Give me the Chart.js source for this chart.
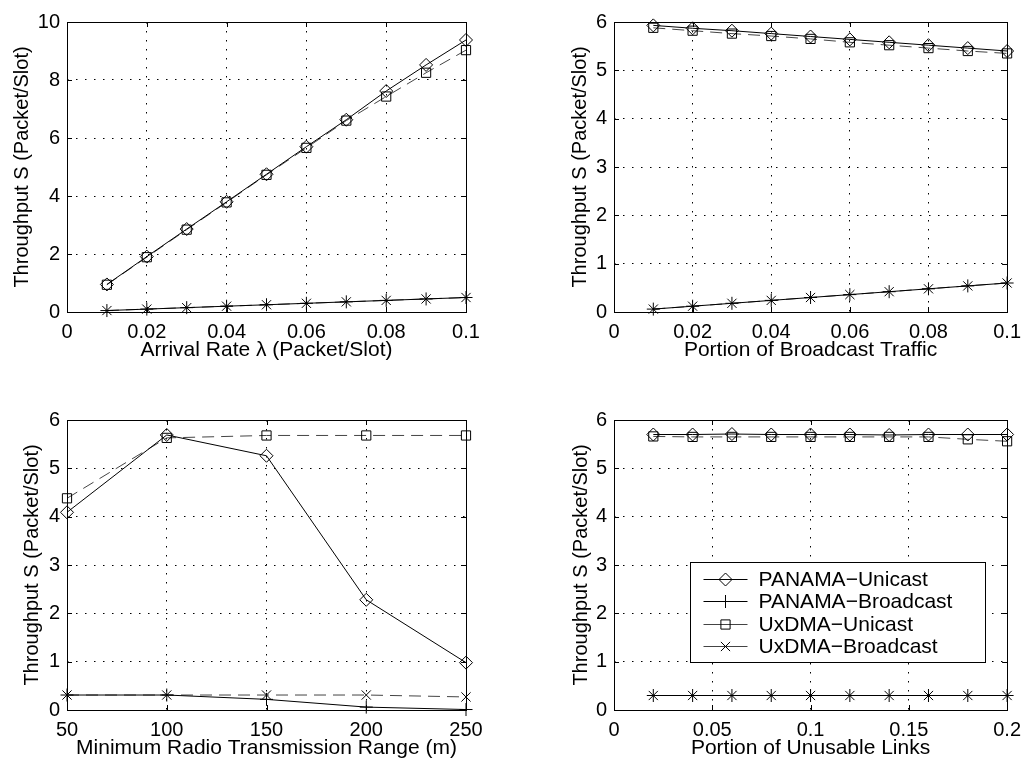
<!DOCTYPE html>
<html lang="en">
<head>
<meta charset="UTF-8">
<title>Throughput S</title>
<script src="https://cdn.jsdelivr.net/npm/chart.js"></script>
<style>
  html, body { margin: 0; padding: 0; background: #fff; }
  body { width: 1029px; height: 761px; position: relative; overflow: hidden; }
  canvas { position: absolute; }
</style>
</head>
<body>
<canvas id="c1" style="left:0;top:0" width="514" height="380"></canvas>
<canvas id="c2" style="left:514px;top:0" width="515" height="380"></canvas>
<canvas id="c3" style="left:0;top:380px" width="514" height="381"></canvas>
<canvas id="c4" style="left:514px;top:380px" width="515" height="381"></canvas>

<script>
const seriesNames = ['PANAMA\u2212Unicast', 'PANAMA\u2212Broadcast', 'UxDMA\u2212Unicast', 'UxDMA\u2212Broadcast'];
const yTitle = 'Throughput S (Packet/Slot)';

// arrival rate
const rateX = [0.01, 0.02, 0.03, 0.04, 0.05, 0.06, 0.07, 0.08, 0.09, 0.1];
const rateUniP = [0.95, 1.91, 2.86, 3.8, 4.75, 5.7, 6.63, 7.62, 8.52, 9.38];
const rateBcP = [0.05, 0.1, 0.15, 0.2, 0.25, 0.3, 0.35, 0.4, 0.45, 0.5];
const rateUniU = [0.94, 1.89, 2.84, 3.78, 4.73, 5.66, 6.6, 7.43, 8.25, 9.03];
const rateBcU = [0.05, 0.1, 0.15, 0.2, 0.25, 0.3, 0.35, 0.4, 0.45, 0.5];
const rateXTicks = [0, 0.02, 0.04, 0.06, 0.08, 0.1];
const rateXLabels = ['0', '0.02', '0.04', '0.06', '0.08', '0.1'];
const rateYTicks = [0, 2, 4, 6, 8, 10];
const rateYLabels = ['0', '2', '4', '6', '8', '10'];

// broadcast portion
const bcX = [0.01, 0.02, 0.03, 0.04, 0.05, 0.06, 0.07, 0.08, 0.09, 0.1];
const bcUniP = [5.93, 5.87, 5.82, 5.76, 5.7, 5.64, 5.58, 5.52, 5.46, 5.4];
const bcBcP = [0.06, 0.12, 0.18, 0.24, 0.3, 0.36, 0.42, 0.48, 0.54, 0.6];
const bcUniU = [5.88, 5.82, 5.76, 5.71, 5.65, 5.58, 5.52, 5.46, 5.4, 5.35];
const bcBcU = [0.06, 0.12, 0.18, 0.24, 0.3, 0.36, 0.42, 0.48, 0.54, 0.6];
const bcXTicks = [0, 0.02, 0.04, 0.06, 0.08, 0.1];
const bcXLabels = ['0', '0.02', '0.04', '0.06', '0.08', '0.1'];

// radio range
const rangeX = [50, 100, 150, 200, 250];
const rangeUniP = [4.09, 5.69, 5.26, 2.28, 0.98];
const rangeBcP = [0.31, 0.31, 0.22, 0.06, 0.01];
const rangeUniU = [4.38, 5.63, 5.68, 5.68, 5.68];
const rangeBcU = [0.31, 0.31, 0.31, 0.31, 0.27];
const rangeXTicks = [50, 100, 150, 200, 250];
const rangeXLabels = ['50', '100', '150', '200', '250'];

// unusable links
const linkX = [0.02, 0.04, 0.06, 0.08, 0.1, 0.12, 0.14, 0.16, 0.18, 0.2];
const linkUniP = [5.7, 5.7, 5.71, 5.7, 5.7, 5.7, 5.69, 5.7, 5.7, 5.7];
const linkBcP = [0.3, 0.3, 0.3, 0.3, 0.3, 0.3, 0.3, 0.3, 0.3, 0.3];
const linkUniU = [5.66, 5.65, 5.65, 5.65, 5.65, 5.65, 5.65, 5.65, 5.6, 5.56];
const linkBcU = [0.3, 0.3, 0.3, 0.3, 0.3, 0.3, 0.3, 0.3, 0.3, 0.3];
const linkXTicks = [0, 0.05, 0.1, 0.15, 0.2];
const linkXLabels = ['0', '0.05', '0.1', '0.15', '0.2'];

const sixYTicks = [0, 1, 2, 3, 4, 5, 6];
const sixYLabels = ['0', '1', '2', '3', '4', '5', '6'];

const FONT = 'Liberation Sans, Arial, Helvetica, sans-serif';
const styles = [
  { pointStyle: 'rectRot', dash: [], color: '#000' },
  { pointStyle: 'cross', dash: [], color: '#000' },
  { pointStyle: 'rect', dash: [12, 7], color: '#444' },
  { pointStyle: 'crossRot', dash: [12, 7], color: '#444' }
];

// box round the plot, with inward tick marks like matlab
const framePlugin = {
  id: 'frame',
  afterDraw(chart) {
    const { ctx, chartArea: a, scales } = chart;
    ctx.save();
    ctx.strokeStyle = '#000';
    ctx.lineWidth = 1;
    ctx.strokeRect(Math.round(a.left) + 0.5, Math.round(a.top) + 0.5, Math.round(a.right - a.left), Math.round(a.bottom - a.top));
    ctx.beginPath();
    scales.x.ticks.forEach(t => {
      const x = Math.round(scales.x.getPixelForValue(t.value)) + 0.5;
      ctx.moveTo(x, a.bottom); ctx.lineTo(x, a.bottom - 5);
      ctx.moveTo(x, a.top); ctx.lineTo(x, a.top + 5);
    });
    scales.y.ticks.forEach(t => {
      const y = Math.round(scales.y.getPixelForValue(t.value)) + 0.5;
      ctx.moveTo(a.left, y); ctx.lineTo(a.left + 5, y);
      ctx.moveTo(a.right, y); ctx.lineTo(a.right - 5, y);
    });
    ctx.stroke();
    ctx.restore();
  }
};

function marker(ctx, style, x, y, r) {
  ctx.beginPath();
  if (style === 'rectRot') {
    ctx.moveTo(x - r, y); ctx.lineTo(x, y - r); ctx.lineTo(x + r, y); ctx.lineTo(x, y + r); ctx.closePath();
  } else if (style === 'rect') {
    const s = r * Math.SQRT1_2;
    ctx.rect(x - s, y - s, 2 * s, 2 * s);
  } else if (style === 'cross') {
    ctx.moveTo(x - r, y); ctx.lineTo(x + r, y); ctx.moveTo(x, y - r); ctx.lineTo(x, y + r);
  } else {
    const s = r * Math.SQRT1_2;
    ctx.moveTo(x - s, y - s); ctx.lineTo(x + s, y + s); ctx.moveTo(x - s, y + s); ctx.lineTo(x + s, y - s);
  }
  ctx.stroke();
}

const legendPlugin = {
  id: 'boxLegend',
  afterDraw(chart) {
    const { ctx, chartArea: a } = chart;
    const left = Math.round(a.left + 76) + 0.5, top = Math.round(a.top + 142) + 0.5;
    const w = 295, h = 100;
    ctx.save();
    ctx.fillStyle = '#fff';
    ctx.fillRect(left, top, w, h);
    ctx.strokeStyle = '#000';
    ctx.lineWidth = 1;
    ctx.strokeRect(left, top, w, h);
    ctx.font = '21px ' + FONT;
    ctx.textBaseline = 'middle';
    ctx.fillStyle = '#000';
    chart.data.datasets.forEach((ds, i) => {
      const y = Math.round(top + 16 + i * 22.5) + 0.5;
      ctx.strokeStyle = ds.borderColor;
      ctx.setLineDash([]);
      ctx.beginPath();
      ctx.moveTo(left + 13, y); ctx.lineTo(left + 57, y);
      ctx.stroke();
      ctx.strokeStyle = '#000';
      marker(ctx, ds.pointStyle, left + 35, y, ds.pointRadius);
      ctx.fillText(ds.label, left + 68, y + 1);
    });
    ctx.restore();
  }
};

function makeChart(id, c) {
  const datasets = c.ys.map((ys, i) => ({
    label: seriesNames[i],
    data: c.xs.map((x, j) => ({ x: x, y: ys[j] })),
    borderColor: styles[i].color,
    borderWidth: 1,
    borderDash: styles[i].dash,
    pointStyle: styles[i].pointStyle,
    pointRadius: 6.5,
    pointBorderColor: '#000',
    pointBackgroundColor: 'rgba(0,0,0,0)',
    pointBorderWidth: 1,
    tension: 0,
    fill: false,
    clip: false
  }));
  const tickFont = { family: FONT, size: 20 };
  const titleFont = { family: FONT, size: 21 };
  new Chart(document.getElementById(id), {
    type: 'line',
    data: { datasets: datasets },
    options: {
      responsive: false,
      animation: false,
      devicePixelRatio: 1,
      layout: { padding: c.pad },
      plugins: { legend: { display: false }, tooltip: { enabled: false } },
      scales: {
        x: {
          type: 'linear', min: c.xMin, max: c.xMax,
          afterBuildTicks: s => { s.ticks = c.xTicks.map(v => ({ value: v })); },
          afterFit: s => { s.height = c.xHeight; },
          ticks: { font: tickFont, color: '#000', padding: 8, maxRotation: 0, autoSkip: false,
                   callback: (v, i) => c.xLabels[i] },
          grid: { color: '#000', lineWidth: 1, drawTicks: false },
          border: { display: false, dash: [1.5, 7.5] },
          title: { display: true, text: c.xTitle, font: titleFont, color: '#000', padding: { top: 0, bottom: c.xTitlePad } }
        },
        y: {
          type: 'linear', min: c.yMin, max: c.yMax,
          afterBuildTicks: s => { s.ticks = c.yTicks.map(v => ({ value: v })); },
          afterFit: s => { s.width = c.yWidth; },
          ticks: { font: tickFont, color: '#000', padding: 7, autoSkip: false,
                   callback: (v, i) => c.yLabels[i] },
          grid: { color: '#000', lineWidth: 1, drawTicks: false },
          border: { display: false, dash: [1.5, 7.5] },
          title: { display: true, text: yTitle, font: tickFont, color: '#000', padding: { top: c.yTitlePad, bottom: 0 } }
        }
      }
    },
    plugins: c.legend ? [framePlugin, legendPlugin] : [framePlugin]
  });
}

makeChart('c1', {
  xs: rateX, ys: [rateUniP, rateBcP, rateUniU, rateBcU],
  xMin: 0, xMax: 0.1, xTicks: rateXTicks, xLabels: rateXLabels,
  yMin: 0, yMax: 10, yTicks: rateYTicks, yLabels: rateYLabels,
  xTitle: 'Arrival Rate \u03bb (Packet/Slot)',
  pad: { left: 0, top: 22, right: 48, bottom: 0 }, yWidth: 67, xHeight: 68, xTitlePad: 17, yTitlePad: 10
});

makeChart('c2', {
  xs: bcX, ys: [bcUniP, bcBcP, bcUniU, bcBcU],
  xMin: 0, xMax: 0.1, xTicks: bcXTicks, xLabels: bcXLabels,
  yMin: 0, yMax: 6, yTicks: sixYTicks, yLabels: sixYLabels,
  xTitle: 'Portion of Broadcast Traffic',
  pad: { left: 44, top: 22, right: 16, bottom: 0 }, yWidth: 56, xHeight: 68, xTitlePad: 17, yTitlePad: 10
});

makeChart('c3', {
  xs: rangeX, ys: [rangeUniP, rangeBcP, rangeUniU, rangeBcU],
  xMin: 50, xMax: 250, xTicks: rangeXTicks, xLabels: rangeXLabels,
  yMin: 0, yMax: 6, yTicks: sixYTicks, yLabels: sixYLabels,
  xTitle: 'Minimum Radio Transmission Range (m)',
  pad: { left: 0, top: 40, right: 48, bottom: 0 }, yWidth: 67, xHeight: 51, xTitlePad: 0, yTitlePad: 20
});

makeChart('c4', {
  xs: linkX, ys: [linkUniP, linkBcP, linkUniU, linkBcU],
  xMin: 0, xMax: 0.2, xTicks: linkXTicks, xLabels: linkXLabels,
  yMin: 0, yMax: 6, yTicks: sixYTicks, yLabels: sixYLabels,
  xTitle: 'Portion of Unusable Links',
  pad: { left: 44, top: 40, right: 16, bottom: 0 }, yWidth: 56, xHeight: 51, xTitlePad: 0, yTitlePad: 11,
  legend: true
});
</script>
</body>
</html>
